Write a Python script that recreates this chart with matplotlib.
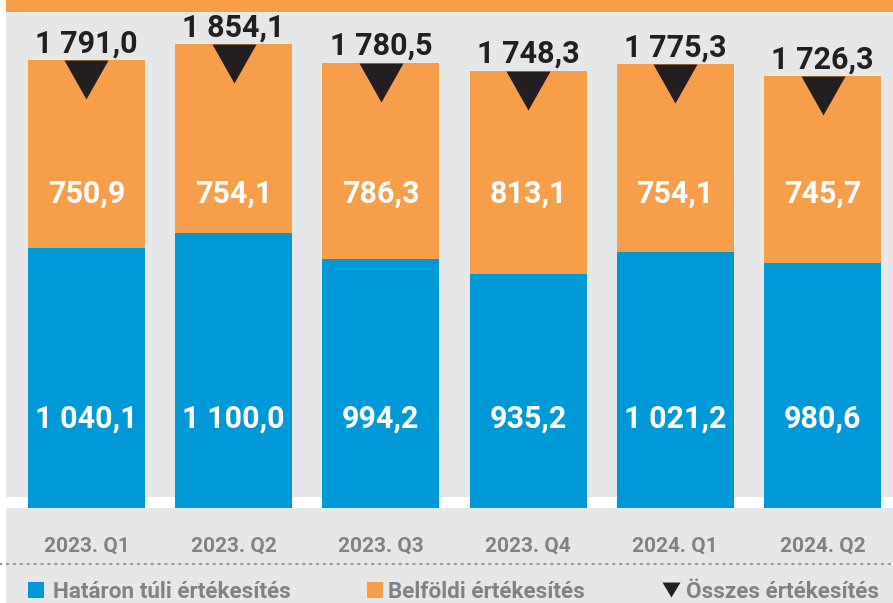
import numpy as np
import matplotlib
matplotlib.use('Agg')
import matplotlib.pyplot as plt
from matplotlib.patches import Rectangle
from matplotlib.lines import Line2D
from matplotlib.transforms import blended_transform_factory

# data
quarters = ['2023. Q1', '2023. Q2', '2023. Q3', '2023. Q4', '2024. Q1', '2024. Q2']
export_sales = [1040.1, 1100.0, 994.2, 935.2, 1021.2, 980.6]
domestic_sales = [750.9, 754.1, 786.3, 813.1, 754.1, 745.7]
total_sales = [1791.0, 1854.1, 1780.5, 1748.3, 1775.3, 1726.3]
series_names = ['Határon túli értékesítés', 'Belföldi értékesítés', 'Összes értékesítés']

BLUE = '#0099D8'
ORANGE = '#F79E4A'
GRAY_BG = '#E6E7E8'
DARK = '#231F20'
LABEL_GRAY = '#808285'
FONT = 'Roboto'

W, H = 893, 603


def fx(px):
    return px / W


def fy(py):
    return 1 - py / H


def fmt(v):
    s = f'{v:,.1f}'
    return s.replace(',', ' ').replace('.', ',')


fig = plt.figure(figsize=(W / 100, H / 100), dpi=100, facecolor='white')

# background pieces
fig.patches.append(Rectangle((fx(6), 0), 1 - fx(6), 1, transform=fig.transFigure,
                             facecolor=GRAY_BG, edgecolor='none', zorder=-3))
fig.patches.append(Rectangle((fx(6), fy(12)), 1 - fx(6), 1 - fy(12), transform=fig.transFigure,
                             facecolor=ORANGE, edgecolor='none', zorder=-2))
fig.patches.append(Rectangle((fx(6), fy(508)), 1 - fx(6), fy(497) - fy(508), transform=fig.transFigure,
                             facecolor='white', edgecolor='none', zorder=-2))

# main axes
scale = 0.2502  # px per unit
ax = fig.add_axes([fx(6), fy(508), 1 - fx(6), fy(12) - fy(508)], zorder=2)
ax.set_facecolor('none')
ax.set_xlim((6 - 86.5) / 147.2, (893 - 86.5) / 147.2)
ax.set_ylim(0, (508 - 12) / scale)
for s in ax.spines.values():
    s.set_visible(False)
ax.set_xticks([])
ax.set_yticks([])

x = np.arange(len(quarters))
bw = 117 / 147.2
ax.bar(x, export_sales, width=bw, color=BLUE, linewidth=0)
ax.bar(x, domestic_sales, width=bw, bottom=export_sales, color=ORANGE, linewidth=0)

# downward triangle whose top edge sits on the data point
tri_h = 39 / 44 * 2
tri = [(-1, 0), (1, 0), (0, -tri_h)]
ax.plot(x, total_sales, linestyle='none', marker=tri, markersize=44 * 0.72 * tri_h,
        color=DARK, markeredgewidth=0, zorder=5, clip_on=False)

label_tf = blended_transform_factory(ax.transData, fig.transFigure)
for i in range(len(quarters)):
    ax.annotate(fmt(total_sales[i]), (x[i], total_sales[i]), xytext=(0, 5.5),
                textcoords='offset points', ha='center', va='baseline',
                fontsize=22, fontweight='bold', family=FONT, color=DARK,
                annotation_clip=False)
    ax.text(x[i], (508 - 203) / scale, fmt(domestic_sales[i]), ha='center', va='baseline',
            fontsize=22, fontweight='bold', family=FONT, color='white')
    ax.text(x[i], (508 - 428) / scale, fmt(export_sales[i]), ha='center', va='baseline',
            fontsize=22, fontweight='bold', family=FONT, color='white')
    ax.text(x[i], fy(552), quarters[i], transform=label_tf, clip_on=False,
            ha='center', va='baseline', fontsize=15, fontweight='bold', family=FONT, color=LABEL_GRAY)

# dotted separator
fig.add_artist(Line2D([0, 1], [fy(564), fy(564)], transform=fig.transFigure,
                      color='#9A9B9D', linewidth=1.6, linestyle=(0, (0.6, 2.5)),
                      dash_capstyle='round'))

# legend
leg_y = fy(598)
sq = 16
fs_leg = 16.2
fig.patches.append(Rectangle((fx(28), leg_y), fx(sq), sq / H, transform=fig.transFigure,
                             facecolor=BLUE, edgecolor='none', zorder=3))
fig.text(fx(53), leg_y, series_names[0], ha='left', va='baseline', fontsize=fs_leg,
         fontweight='bold', family=FONT, color=LABEL_GRAY)
fig.patches.append(Rectangle((fx(367), leg_y), fx(sq), sq / H, transform=fig.transFigure,
                             facecolor=ORANGE, edgecolor='none', zorder=3))
fig.text(fx(388), leg_y, series_names[1], ha='left', va='baseline', fontsize=fs_leg,
         fontweight='bold', family=FONT, color=LABEL_GRAY)
leg_h = 15 / 18 * 2
fig.add_artist(Line2D([fx(671)], [fy(582)], transform=fig.transFigure,
                      marker=[(-1, 0), (1, 0), (0, -leg_h)],
                      markersize=18 * 0.72 * leg_h, color=DARK, markeredgewidth=0, linestyle='none'))
fig.text(fx(686), leg_y, series_names[2], ha='left', va='baseline', fontsize=fs_leg,
         fontweight='bold', family=FONT, color=LABEL_GRAY)

fig.savefig('out.png', dpi=100, facecolor='white')
